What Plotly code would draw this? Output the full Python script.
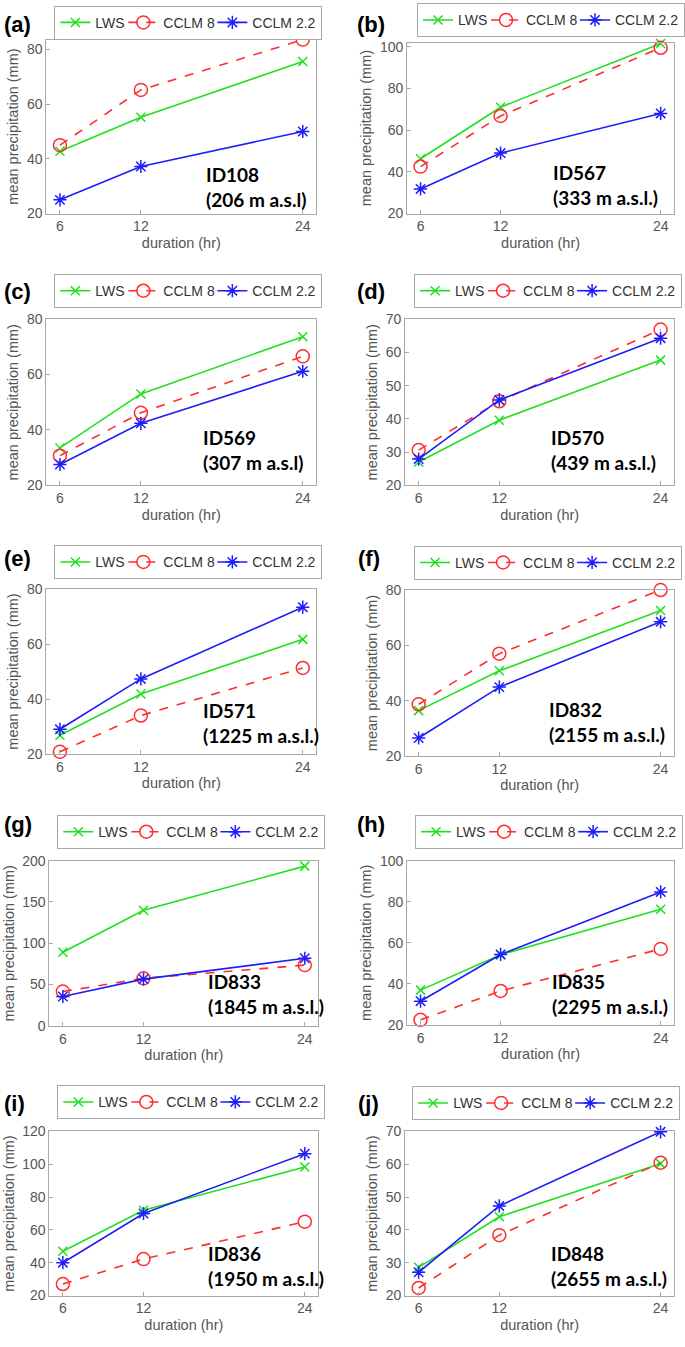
import plotly.graph_objects as go

# ---------------- data ----------------
DURATION = [6, 12, 24]
PANEL_LABELS = ["(a)", "(b)", "(c)", "(d)", "(e)", "(f)", "(g)", "(h)", "(i)", "(j)"]
STATIONS = ["ID108", "ID567", "ID569", "ID570", "ID571", "ID832", "ID833", "ID835", "ID836", "ID848"]
ELEVATIONS = ["(206 m a.s.l)", "(333 m a.s.l.)", "(307 m a.s.l)", "(439 m a.s.l.)",
              "(1225 m a.s.l.)", "(2155 m a.s.l.)", "(1845 m a.s.l.)", "(2295 m a.s.l.)",
              "(1950 m a.s.l.)", "(2655 m a.s.l.)"]
SERIES_NAMES = ["LWS", "CCLM 8", "CCLM 2.2"]

LWS = [
    [42.8, 55.2, 75.6],
    [46.3, 71.0, 101.6],
    [33.5, 53.0, 73.7],
    [27.0, 39.6, 57.7],
    [26.8, 41.8, 61.7],
    [36.4, 50.8, 72.6],
    [89.0, 140.0, 193.5],
    [36.9, 54.2, 76.3],
    [47.0, 72.0, 98.4],
    [28.6, 44.0, 60.2],
]
CCLM8 = [
    [45.0, 65.2, 83.6],
    [42.5, 66.8, 99.5],
    [30.7, 46.2, 66.6],
    [30.6, 45.3, 66.9],
    [20.8, 34.0, 51.3],
    [38.7, 57.0, 80.0],
    [41.5, 57.5, 73.5],
    [22.4, 36.5, 57.0],
    [27.0, 42.2, 65.0],
    [22.3, 38.4, 60.5],
]
CCLM22 = [
    [25.0, 37.2, 50.0],
    [31.8, 49.0, 68.0],
    [27.5, 42.4, 61.2],
    [27.9, 45.7, 64.3],
    [29.0, 47.3, 73.4],
    [26.5, 44.9, 68.5],
    [35.5, 56.5, 81.8],
    [31.5, 54.3, 84.8],
    [40.0, 70.0, 106.5],
    [27.1, 47.3, 69.9],
]
Y_RANGES = [[20, 83.6], [20, 102], [20, 80], [20, 70], [20, 80],
            [20, 80], [0, 200], [20, 100], [20, 120], [20, 70]]
Y_DTICKS = [20, 20, 20, 10, 20, 20, 50, 20, 20, 10]

# ---------------- layout geometry (pixels) ----------------
W, H = 685, 1347
BOXES = [(47, 320, 32, 208), (412, 682, 35, 208),
         (47, 320, 315, 483), (410, 682, 315, 483),
         (47, 320, 588, 755), (410, 682, 589, 757),
         (50, 322, 863, 1030), (412, 682, 863, 1029),
         (50, 322, 1137, 1303), (410, 682, 1137, 1303)]
# legend left edge and vertical centre
LEGEND_POS = [(55, 15), (422, 12.5), (55, 286.5), (419, 286.5), (55, 561),
              (419, 561.5), (58, 834), (420, 834), (58, 1107.5), (417, 1108.5)]
LABEL_POS = [(2, 2), (359, 2), (2, 272), (359, 272), (2, 542),
             (360, 542), (2, 812), (359, 812), (2, 1094), (360, 1094)]
NOTE_POS = [(206, 207), (558, 205), (203, 474), (555, 474), (203, 750),
            (553, 749), (208, 1024), (557, 1024), (208, 1299), (555, 1299)]
LEGEND_WIDTHS = [23, 44, 64]

GREEN = "rgb(30,225,30)"
RED = "rgb(255,45,45)"
BLUE = "rgb(30,30,250)"
AXIS_GRAY = "#a8a8a8"
TEXT_GRAY = "#555555"
SANS = "Liberation Sans, Arial, sans-serif"

fig = go.Figure()
layout = dict(
    width=W, height=H, margin=dict(l=0, r=0, t=0, b=0),
    paper_bgcolor="white", plot_bgcolor="white",
    showlegend=True, annotations=[],
)

styles = [
    dict(color=GREEN, dash="solid", symbol="x-thin-open", size=9),
    dict(color=RED, dash="dash", symbol="circle-open", size=13),
    dict(color=BLUE, dash="solid", symbol="asterisk-open", size=11),
]

for i in range(10):
    xa = "x" if i == 0 else f"x{i+1}"
    ya = "y" if i == 0 else f"y{i+1}"
    lg = "legend" if i == 0 else f"legend{i+1}"
    for k, (name, vals, st) in enumerate(zip(SERIES_NAMES, (LWS[i], CCLM8[i], CCLM22[i]), styles)):
        fig.add_trace(go.Scatter(
            x=DURATION, y=vals, name=name, mode="lines+markers",
            xaxis=xa, yaxis=ya, legend=lg, cliponaxis=False,
            legendwidth=LEGEND_WIDTHS[k],
            line=dict(color=st["color"], width=1.6, dash=st["dash"]),
            marker=dict(symbol=st["symbol"], size=st["size"],
                        line=dict(color=st["color"], width=1.5), color=st["color"]),
        ))
    l, r, t, b = BOXES[i]
    common = dict(showline=True, mirror=True, linecolor=AXIS_GRAY, linewidth=1,
                  ticks="inside", ticklen=4, tickcolor=AXIS_GRAY, showgrid=False,
                  zeroline=False, tickfont=dict(family=SANS, size=14, color=TEXT_GRAY))
    layout["xaxis" if i == 0 else f"xaxis{i+1}"] = dict(
        domain=[l / W, r / W], anchor=ya, range=[5, 25], tickvals=DURATION,
        title=dict(text="duration (hr)", font=dict(family=SANS, size=14.5, color=TEXT_GRAY),
                   standoff=4),
        **common)
    layout["yaxis" if i == 0 else f"yaxis{i+1}"] = dict(
        domain=[1 - b / H, 1 - t / H], anchor=xa, range=Y_RANGES[i], dtick=Y_DTICKS[i],
        tick0=0,
        title=dict(text="mean precipitation (mm)",
                   font=dict(family=SANS, size=14.5, color=TEXT_GRAY), standoff=4),
        **common)
    lx, ly = LEGEND_POS[i]
    layout[lg] = dict(
        orientation="h", x=lx / W, y=1 - ly / H, xanchor="left", yanchor="middle",
        xref="paper", yref="paper",
        bgcolor="white", bordercolor=AXIS_GRAY, borderwidth=1,
        font=dict(family=SANS, size=14, color="#333333"),
        itemwidth=30, tracegroupgap=0,
    )
    px, py = LABEL_POS[i]
    layout["annotations"].append(dict(
        text=f"<b>{PANEL_LABELS[i]}</b>", x=px / W, y=1 - py / H, xref="paper", yref="paper",
        xanchor="left", yanchor="top", showarrow=False,
        font=dict(family=SANS, size=22, color="black")))
    nx, ny = NOTE_POS[i]
    layout["annotations"].append(dict(
        text=f"{STATIONS[i]}<br>{ELEVATIONS[i]}", x=nx / W, y=1 - ny / H,
        xref="paper", yref="paper", xanchor="left", yanchor="bottom", align="left",
        showarrow=False,
        font=dict(family="Lato, Open Sans, sans-serif", size=19, color="black", weight="bold")))

fig.update_layout(**layout)
fig.write_html("out.html", config={"displayModeBar": False},
               post_script="document.body.style.margin='0';")
